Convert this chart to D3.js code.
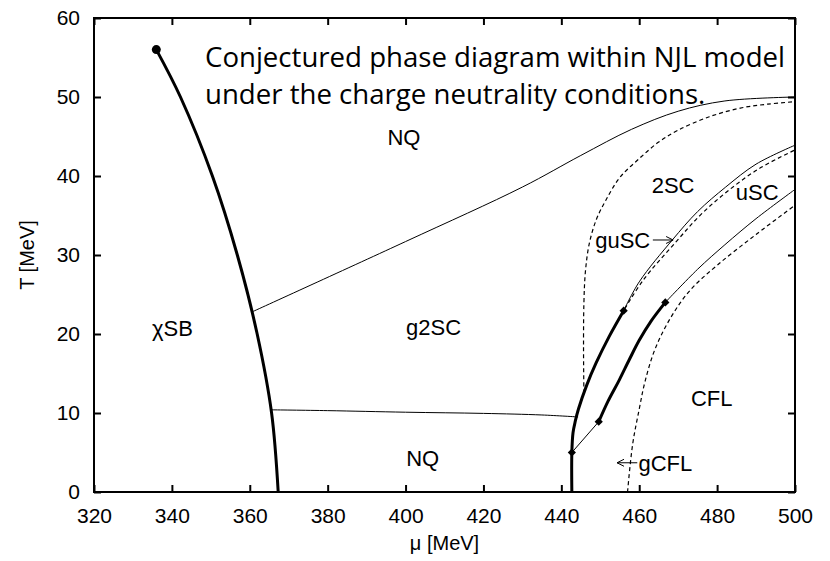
<!DOCTYPE html>
<html>
<head>
<meta charset="utf-8">
<script src="https://cdn.jsdelivr.net/npm/d3@7"></script>
<style>
  body { margin: 0; background: #fff; }
  svg { display: block; }
</style>
</head>
<body>
<svg width="830" height="561"></svg>
<script>
// assen
var xTicks = [320, 340, 360, 380, 400, 420, 440, 460, 480, 500];
var yTicks = [0, 10, 20, 30, 40, 50, 60];

// lijnen in [mu, T]
var chiralLine = [[336, 56], [342.2, 50], [350.4, 40], [356.8, 30], [361.9, 20], [365.6, 10], [367.3, 0]];
var upperNQ = [[360.6, 22.8], [400, 31.7], [430, 38.6], [445, 42.6], [458, 45.9], [470, 48.2], [482, 49.5], [500, 50]];
var lowerNQ = [[365.6, 10.4], [380, 10.3], [400, 10.1], [420, 9.95], [435, 9.75], [444.3, 9.5]];
var thickA = [[442.7, 0], [442.7, 5], [443, 7.5], [443.6, 9], [444.4, 10.5], [446.5, 13.5],
  [448.9, 16.3], [452.3, 19.7], [456, 22.95]];
var thinLink = [[442.7, 5], [449.6, 8.9]];
var thickB = [[449.6, 8.9], [452, 11.5], [454.9, 14.2], [457.5, 16.8], [460, 19.2], [463, 21.6], [466.7, 24.0]];
var thinS1 = [[456, 22.95], [460, 26.6], [468.5, 31.9], [475, 35.5], [482.2, 38.6], [490, 41.5], [500, 43.9]];
var thinS2 = [[466.7, 24], [475, 28.2], [482, 31.3], [490, 34.6], [500, 38.3]];
var dashD1 = [[445.8, 12.5], [445.7, 18], [445.8, 24], [446.2, 28], [447.2, 31.5], [449, 34.5], [451.5, 37],
  [455, 39.8], [460, 42.2], [465, 44.3], [470, 45.8], [478, 47.5], [486, 48.6], [493, 49.1], [500, 49.4]];
var dashD2 = [[456.3, 23.2], [461, 26.8], [469.5, 31.7], [476, 35.2], [483, 38.2], [491, 41], [500, 43.3]];
var dashD3 = [[457, 0], [458.3, 6], [460, 10.5], [461.5, 14], [464, 18], [468, 22], [473, 25.5],
  [480, 28.7], [490, 32.6], [500, 36.3]];

var endPoint = [336, 56];
var diamonds = [[442.7, 5], [449.6, 8.9], [456, 22.95], [466.7, 24]];

// fase namen: [tekst, mu, T]
var phaseLabels = [["NQ", 399.6, 44.9], ["2SC", 468.7, 38.9], ["uSC", 490.3, 38.0], ["g2SC", 407.2, 20.9],
  ["NQ", 404.4, 4.3], ["CFL", 478.6, 11.9]];

var titleLines = ["Conjectured phase diagram within NJL model", "under the charge neutrality conditions."];

var svg = d3.select("svg");
var mLeft = 94, mRight = 795, mTop = 18, mBottom = 492;

var x = d3.scaleLinear().domain([320, 500]).range([mLeft, mRight]);
var y = d3.scaleLinear().domain([0, 60]).range([mBottom, mTop]);

var line = d3.line()
  .x(function (d) { return x(d[0]); })
  .y(function (d) { return y(d[1]); })
  .curve(d3.curveCatmullRom);

function drawLine(data, width, dash) {
  svg.append("path")
    .datum(data)
    .attr("fill", "none")
    .attr("stroke", "#000")
    .attr("stroke-width", width)
    .attr("stroke-dasharray", dash || null)
    .attr("d", line);
}

drawLine(upperNQ, 1);
drawLine(lowerNQ, 1);
drawLine(thinLink, 1);
drawLine(thinS1, 1);
drawLine(thinS2, 1);
drawLine(dashD1, 1.2, "4,3");
drawLine(dashD2, 1.2, "4,3");
drawLine(dashD3, 1.2, "4,3");
drawLine(chiralLine, 3);
drawLine(thickA, 3);
drawLine(thickB, 3);

svg.append("circle")
  .attr("cx", x(endPoint[0]))
  .attr("cy", y(endPoint[1]))
  .attr("r", 4.5)
  .attr("fill", "#000");

svg.selectAll(".diamond")
  .data(diamonds)
  .enter().append("path")
  .attr("class", "diamond")
  .attr("d", d3.symbol().type(d3.symbolSquare).size(34))
  .attr("transform", function (d) { return "translate(" + x(d[0]) + "," + y(d[1]) + ") rotate(45)"; })
  .attr("fill", "#000");

// assen met tikjes naar binnen
var font = "'Liberation Sans', Arial, Helvetica, sans-serif";

var gx = svg.append("g").attr("transform", "translate(0," + mBottom + ")")
  .call(d3.axisBottom(x).tickValues(xTicks).tickSizeInner(-7).tickSizeOuter(0).tickPadding(16));
var gy = svg.append("g").attr("transform", "translate(" + mLeft + ",0)")
  .call(d3.axisLeft(y).tickValues(yTicks).tickSizeInner(-7).tickSizeOuter(0).tickPadding(14));
var gt = svg.append("g").attr("transform", "translate(0," + mTop + ")")
  .call(d3.axisTop(x).tickValues(xTicks).tickSizeInner(-7).tickSizeOuter(0).tickFormat(""));
var gr = svg.append("g").attr("transform", "translate(" + mRight + ",0)")
  .call(d3.axisRight(y).tickValues(yTicks).tickSizeInner(-7).tickSizeOuter(0).tickFormat(""));

[gx, gy, gt, gr].forEach(function (g) {
  g.select(".domain").remove();
  g.selectAll(".tick line").attr("stroke", "#000").attr("stroke-width", 2);
  g.selectAll("text").attr("font-family", font).attr("font-size", 21).attr("fill", "#000");
});

svg.append("rect")
  .attr("x", mLeft).attr("y", mTop)
  .attr("width", mRight - mLeft).attr("height", mBottom - mTop)
  .attr("fill", "none").attr("stroke", "#000").attr("stroke-width", 2);

// as titels
svg.append("text")
  .attr("transform", "translate(34," + ((mTop + mBottom) / 2) + ") rotate(-90)")
  .attr("text-anchor", "middle")
  .attr("font-family", font).attr("font-size", 20)
  .text("T [MeV]");

svg.append("text")
  .attr("x", (mLeft + mRight) / 2).attr("y", 550)
  .attr("text-anchor", "middle")
  .attr("font-family", font).attr("font-size", 20)
  .text("\u03bc [MeV]");

// fase namen
svg.selectAll(".phase")
  .data(phaseLabels)
  .enter().append("text")
  .attr("class", "phase")
  .attr("x", function (d) { return x(d[1]); })
  .attr("y", function (d) { return y(d[2]); })
  .attr("dy", "0.36em")
  .attr("text-anchor", "middle")
  .attr("font-family", font).attr("font-size", 22)
  .text(function (d) { return d[0]; });

svg.append("text")
  .attr("x", x(334.9)).attr("y", y(20.8)).attr("dy", "0.36em")
  .attr("font-family", font).attr("font-size", 22)
  .text("\u03c7SB");

// guSC met pijl naar rechts
svg.append("text")
  .attr("x", x(448.7)).attr("y", y(31.9)).attr("dy", "0.36em")
  .attr("font-family", font).attr("font-size", 22)
  .text("guSC");
svg.append("path")
  .attr("d", "M" + x(463.5) + "," + y(31.9) + "H" + x(468.7) +
    "M" + (x(468.7) - 7) + "," + (y(31.9) - 3.5) + "L" + x(468.7) + "," + y(31.9) + "L" + (x(468.7) - 7) + "," + (y(31.9) + 3.5))
  .attr("fill", "none").attr("stroke", "#000").attr("stroke-width", 1);

// gCFL met pijl naar links
svg.append("text")
  .attr("x", x(459.8)).attr("y", y(3.7)).attr("dy", "0.36em")
  .attr("font-family", font).attr("font-size", 22)
  .text("gCFL");
svg.append("path")
  .attr("d", "M" + x(459.5) + "," + y(3.7) + "H" + x(454.3) +
    "M" + (x(454.3) + 7) + "," + (y(3.7) - 3.5) + "L" + x(454.3) + "," + y(3.7) + "L" + (x(454.3) + 7) + "," + (y(3.7) + 3.5))
  .attr("fill", "none").attr("stroke", "#000").attr("stroke-width", 1);

// titel in de grafiek
svg.selectAll(".title")
  .data(titleLines)
  .enter().append("text")
  .attr("class", "title")
  .attr("x", 205)
  .attr("y", function (d, i) { return 67 + i * 37; })
  .attr("font-family", "'Open Sans', Lato, sans-serif")
  .attr("font-size", 27.6)
  .attr("fill", "#000")
  .text(function (d) { return d; });
</script>
</body>
</html>
